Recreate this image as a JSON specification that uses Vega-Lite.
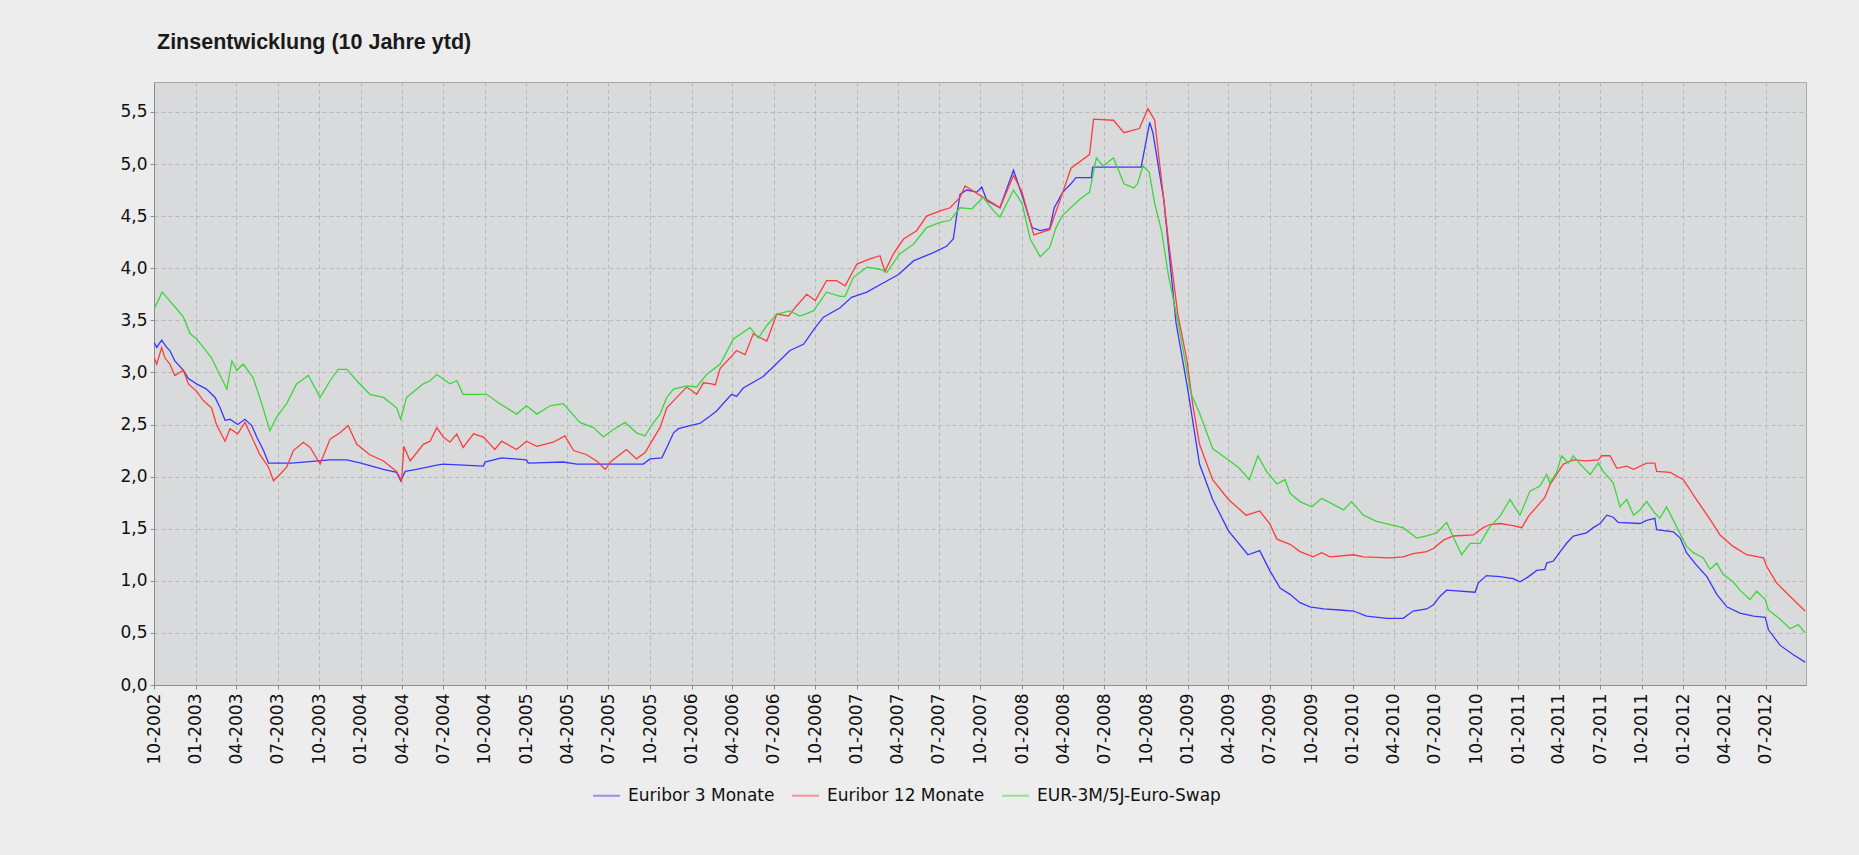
{
"$schema": "https://vega.github.io/schema/vega-lite/v6.json",
"autosize": {"type": "none"},
"width": 1652,
"height": 603,
"padding": {"left": 154, "top": 82, "right": 53, "bottom": 170},
"background": "#ECEDEC",
"title": {"text": "Zinsentwicklung (10 Jahre ytd)", "anchor": "start", "frame": "group", "font": "Liberation Sans", "fontWeight": "bold", "fontSize": 21.5, "color": "#1a1a1a", "dx": 3, "offset": 12, "baseline": "alphabetic"},
"config": {
  "view": {"fill": "#D9DADB", "stroke": "#a9a9a9", "strokeWidth": 1},
  "axis": {"labelFont": "DejaVu Sans", "labelFontSize": 17, "labelColor": "#111111", "domainColor": "#8c8c8c", "tickColor": "#8c8c8c", "tickSize": 4, "gridColor": "#b8b8b8", "gridDash": [4, 3], "gridWidth": 1, "title": null}
},
"data": {"values": [
{"s":"Euribor 3 Monate","d":"2002-10-01","v":3.29},
{"s":"Euribor 3 Monate","d":"2002-10-07","v":3.24},
{"s":"Euribor 3 Monate","d":"2002-10-18","v":3.31},
{"s":"Euribor 3 Monate","d":"2002-10-29","v":3.24},
{"s":"Euribor 3 Monate","d":"2002-11-05","v":3.21},
{"s":"Euribor 3 Monate","d":"2002-11-16","v":3.11},
{"s":"Euribor 3 Monate","d":"2002-12-05","v":3.02},
{"s":"Euribor 3 Monate","d":"2002-12-16","v":2.94},
{"s":"Euribor 3 Monate","d":"2003-01-03","v":2.89},
{"s":"Euribor 3 Monate","d":"2003-01-25","v":2.84},
{"s":"Euribor 3 Monate","d":"2003-02-13","v":2.76},
{"s":"Euribor 3 Monate","d":"2003-02-24","v":2.66},
{"s":"Euribor 3 Monate","d":"2003-03-07","v":2.54},
{"s":"Euribor 3 Monate","d":"2003-03-18","v":2.55},
{"s":"Euribor 3 Monate","d":"2003-04-04","v":2.50},
{"s":"Euribor 3 Monate","d":"2003-04-20","v":2.55},
{"s":"Euribor 3 Monate","d":"2003-05-05","v":2.49},
{"s":"Euribor 3 Monate","d":"2003-05-16","v":2.38},
{"s":"Euribor 3 Monate","d":"2003-05-31","v":2.25},
{"s":"Euribor 3 Monate","d":"2003-06-11","v":2.13},
{"s":"Euribor 3 Monate","d":"2003-08-01","v":2.13},
{"s":"Euribor 3 Monate","d":"2003-10-25","v":2.16},
{"s":"Euribor 3 Monate","d":"2003-12-01","v":2.16},
{"s":"Euribor 3 Monate","d":"2004-01-01","v":2.13},
{"s":"Euribor 3 Monate","d":"2004-02-20","v":2.07},
{"s":"Euribor 3 Monate","d":"2004-03-20","v":2.04},
{"s":"Euribor 3 Monate","d":"2004-03-29","v":1.96},
{"s":"Euribor 3 Monate","d":"2004-04-08","v":2.05},
{"s":"Euribor 3 Monate","d":"2004-05-03","v":2.07},
{"s":"Euribor 3 Monate","d":"2004-06-17","v":2.11},
{"s":"Euribor 3 Monate","d":"2004-07-01","v":2.12},
{"s":"Euribor 3 Monate","d":"2004-09-28","v":2.10},
{"s":"Euribor 3 Monate","d":"2004-10-01","v":2.14},
{"s":"Euribor 3 Monate","d":"2004-11-07","v":2.18},
{"s":"Euribor 3 Monate","d":"2005-01-01","v":2.16},
{"s":"Euribor 3 Monate","d":"2005-01-05","v":2.13},
{"s":"Euribor 3 Monate","d":"2005-03-23","v":2.14},
{"s":"Euribor 3 Monate","d":"2005-04-22","v":2.12},
{"s":"Euribor 3 Monate","d":"2005-09-16","v":2.12},
{"s":"Euribor 3 Monate","d":"2005-10-01","v":2.17},
{"s":"Euribor 3 Monate","d":"2005-10-27","v":2.18},
{"s":"Euribor 3 Monate","d":"2005-11-07","v":2.28},
{"s":"Euribor 3 Monate","d":"2005-11-22","v":2.42},
{"s":"Euribor 3 Monate","d":"2005-12-03","v":2.46},
{"s":"Euribor 3 Monate","d":"2005-12-28","v":2.49},
{"s":"Euribor 3 Monate","d":"2006-01-19","v":2.51},
{"s":"Euribor 3 Monate","d":"2006-02-10","v":2.58},
{"s":"Euribor 3 Monate","d":"2006-02-25","v":2.63},
{"s":"Euribor 3 Monate","d":"2006-03-30","v":2.79},
{"s":"Euribor 3 Monate","d":"2006-04-10","v":2.77},
{"s":"Euribor 3 Monate","d":"2006-04-25","v":2.85},
{"s":"Euribor 3 Monate","d":"2006-06-08","v":2.96},
{"s":"Euribor 3 Monate","d":"2006-06-27","v":3.04},
{"s":"Euribor 3 Monate","d":"2006-08-06","v":3.21},
{"s":"Euribor 3 Monate","d":"2006-09-05","v":3.27},
{"s":"Euribor 3 Monate","d":"2006-10-01","v":3.43},
{"s":"Euribor 3 Monate","d":"2006-10-19","v":3.53},
{"s":"Euribor 3 Monate","d":"2006-11-25","v":3.62},
{"s":"Euribor 3 Monate","d":"2006-12-20","v":3.72},
{"s":"Euribor 3 Monate","d":"2007-01-23","v":3.77},
{"s":"Euribor 3 Monate","d":"2007-03-01","v":3.86},
{"s":"Euribor 3 Monate","d":"2007-04-03","v":3.94},
{"s":"Euribor 3 Monate","d":"2007-05-06","v":4.07},
{"s":"Euribor 3 Monate","d":"2007-06-19","v":4.15},
{"s":"Euribor 3 Monate","d":"2007-07-18","v":4.21},
{"s":"Euribor 3 Monate","d":"2007-08-02","v":4.28},
{"s":"Euribor 3 Monate","d":"2007-08-09","v":4.49},
{"s":"Euribor 3 Monate","d":"2007-08-17","v":4.71},
{"s":"Euribor 3 Monate","d":"2007-09-01","v":4.75},
{"s":"Euribor 3 Monate","d":"2007-09-23","v":4.73},
{"s":"Euribor 3 Monate","d":"2007-10-04","v":4.78},
{"s":"Euribor 3 Monate","d":"2007-10-15","v":4.65},
{"s":"Euribor 3 Monate","d":"2007-11-13","v":4.58},
{"s":"Euribor 3 Monate","d":"2007-12-13","v":4.94},
{"s":"Euribor 3 Monate","d":"2008-01-01","v":4.70},
{"s":"Euribor 3 Monate","d":"2008-01-23","v":4.39},
{"s":"Euribor 3 Monate","d":"2008-02-10","v":4.36},
{"s":"Euribor 3 Monate","d":"2008-03-02","v":4.38},
{"s":"Euribor 3 Monate","d":"2008-03-12","v":4.58},
{"s":"Euribor 3 Monate","d":"2008-03-31","v":4.73},
{"s":"Euribor 3 Monate","d":"2008-04-18","v":4.81},
{"s":"Euribor 3 Monate","d":"2008-04-29","v":4.87},
{"s":"Euribor 3 Monate","d":"2008-06-02","v":4.87},
{"s":"Euribor 3 Monate","d":"2008-06-05","v":4.97},
{"s":"Euribor 3 Monate","d":"2008-09-20","v":4.97},
{"s":"Euribor 3 Monate","d":"2008-10-09","v":5.40},
{"s":"Euribor 3 Monate","d":"2008-10-16","v":5.30},
{"s":"Euribor 3 Monate","d":"2008-10-31","v":4.90},
{"s":"Euribor 3 Monate","d":"2008-11-09","v":4.66},
{"s":"Euribor 3 Monate","d":"2008-12-06","v":3.48},
{"s":"Euribor 3 Monate","d":"2009-01-01","v":2.84},
{"s":"Euribor 3 Monate","d":"2009-01-27","v":2.12},
{"s":"Euribor 3 Monate","d":"2009-02-25","v":1.78},
{"s":"Euribor 3 Monate","d":"2009-04-01","v":1.48},
{"s":"Euribor 3 Monate","d":"2009-05-14","v":1.25},
{"s":"Euribor 3 Monate","d":"2009-06-09","v":1.29},
{"s":"Euribor 3 Monate","d":"2009-07-01","v":1.10},
{"s":"Euribor 3 Monate","d":"2009-07-24","v":0.93},
{"s":"Euribor 3 Monate","d":"2009-08-15","v":0.87},
{"s":"Euribor 3 Monate","d":"2009-09-06","v":0.79},
{"s":"Euribor 3 Monate","d":"2009-09-28","v":0.75},
{"s":"Euribor 3 Monate","d":"2009-10-28","v":0.73},
{"s":"Euribor 3 Monate","d":"2009-12-03","v":0.72},
{"s":"Euribor 3 Monate","d":"2010-01-02","v":0.71},
{"s":"Euribor 3 Monate","d":"2010-01-31","v":0.66},
{"s":"Euribor 3 Monate","d":"2010-03-17","v":0.64},
{"s":"Euribor 3 Monate","d":"2010-04-22","v":0.64},
{"s":"Euribor 3 Monate","d":"2010-05-14","v":0.71},
{"s":"Euribor 3 Monate","d":"2010-06-13","v":0.73},
{"s":"Euribor 3 Monate","d":"2010-06-28","v":0.77},
{"s":"Euribor 3 Monate","d":"2010-07-12","v":0.85},
{"s":"Euribor 3 Monate","d":"2010-07-27","v":0.91},
{"s":"Euribor 3 Monate","d":"2010-09-28","v":0.89},
{"s":"Euribor 3 Monate","d":"2010-10-05","v":0.98},
{"s":"Euribor 3 Monate","d":"2010-10-23","v":1.05},
{"s":"Euribor 3 Monate","d":"2010-11-22","v":1.04},
{"s":"Euribor 3 Monate","d":"2010-12-21","v":1.02},
{"s":"Euribor 3 Monate","d":"2011-01-05","v":0.99},
{"s":"Euribor 3 Monate","d":"2011-01-24","v":1.04},
{"s":"Euribor 3 Monate","d":"2011-02-11","v":1.10},
{"s":"Euribor 3 Monate","d":"2011-03-01","v":1.11},
{"s":"Euribor 3 Monate","d":"2011-03-05","v":1.17},
{"s":"Euribor 3 Monate","d":"2011-03-20","v":1.19},
{"s":"Euribor 3 Monate","d":"2011-04-04","v":1.28},
{"s":"Euribor 3 Monate","d":"2011-04-18","v":1.36},
{"s":"Euribor 3 Monate","d":"2011-05-03","v":1.43},
{"s":"Euribor 3 Monate","d":"2011-06-01","v":1.46},
{"s":"Euribor 3 Monate","d":"2011-06-16","v":1.51},
{"s":"Euribor 3 Monate","d":"2011-07-01","v":1.55},
{"s":"Euribor 3 Monate","d":"2011-07-16","v":1.63},
{"s":"Euribor 3 Monate","d":"2011-07-30","v":1.61},
{"s":"Euribor 3 Monate","d":"2011-08-10","v":1.56},
{"s":"Euribor 3 Monate","d":"2011-09-27","v":1.55},
{"s":"Euribor 3 Monate","d":"2011-10-12","v":1.58},
{"s":"Euribor 3 Monate","d":"2011-10-30","v":1.60},
{"s":"Euribor 3 Monate","d":"2011-11-03","v":1.49},
{"s":"Euribor 3 Monate","d":"2011-12-10","v":1.47},
{"s":"Euribor 3 Monate","d":"2011-12-25","v":1.41},
{"s":"Euribor 3 Monate","d":"2012-01-08","v":1.27},
{"s":"Euribor 3 Monate","d":"2012-01-30","v":1.15},
{"s":"Euribor 3 Monate","d":"2012-02-22","v":1.04},
{"s":"Euribor 3 Monate","d":"2012-03-15","v":0.87},
{"s":"Euribor 3 Monate","d":"2012-04-06","v":0.75},
{"s":"Euribor 3 Monate","d":"2012-05-05","v":0.69},
{"s":"Euribor 3 Monate","d":"2012-06-04","v":0.66},
{"s":"Euribor 3 Monate","d":"2012-06-30","v":0.65},
{"s":"Euribor 3 Monate","d":"2012-07-07","v":0.53},
{"s":"Euribor 3 Monate","d":"2012-08-02","v":0.38},
{"s":"Euribor 3 Monate","d":"2012-08-31","v":0.29},
{"s":"Euribor 3 Monate","d":"2012-09-26","v":0.22},
{"s":"Euribor 12 Monate","d":"2002-10-01","v":3.14},
{"s":"Euribor 12 Monate","d":"2002-10-07","v":3.08},
{"s":"Euribor 12 Monate","d":"2002-10-18","v":3.24},
{"s":"Euribor 12 Monate","d":"2002-10-25","v":3.14},
{"s":"Euribor 12 Monate","d":"2002-11-05","v":3.08},
{"s":"Euribor 12 Monate","d":"2002-11-16","v":2.97},
{"s":"Euribor 12 Monate","d":"2002-12-05","v":3.02},
{"s":"Euribor 12 Monate","d":"2002-12-16","v":2.89},
{"s":"Euribor 12 Monate","d":"2003-01-03","v":2.82},
{"s":"Euribor 12 Monate","d":"2003-01-18","v":2.73},
{"s":"Euribor 12 Monate","d":"2003-02-05","v":2.66},
{"s":"Euribor 12 Monate","d":"2003-02-16","v":2.50},
{"s":"Euribor 12 Monate","d":"2003-03-07","v":2.34},
{"s":"Euribor 12 Monate","d":"2003-03-18","v":2.46},
{"s":"Euribor 12 Monate","d":"2003-04-04","v":2.41},
{"s":"Euribor 12 Monate","d":"2003-04-20","v":2.52},
{"s":"Euribor 12 Monate","d":"2003-05-05","v":2.38},
{"s":"Euribor 12 Monate","d":"2003-05-23","v":2.21},
{"s":"Euribor 12 Monate","d":"2003-06-11","v":2.09},
{"s":"Euribor 12 Monate","d":"2003-06-22","v":1.96},
{"s":"Euribor 12 Monate","d":"2003-07-06","v":2.02},
{"s":"Euribor 12 Monate","d":"2003-07-21","v":2.09},
{"s":"Euribor 12 Monate","d":"2003-08-05","v":2.25},
{"s":"Euribor 12 Monate","d":"2003-08-27","v":2.33},
{"s":"Euribor 12 Monate","d":"2003-09-11","v":2.28},
{"s":"Euribor 12 Monate","d":"2003-10-03","v":2.12},
{"s":"Euribor 12 Monate","d":"2003-10-25","v":2.36},
{"s":"Euribor 12 Monate","d":"2003-11-16","v":2.42},
{"s":"Euribor 12 Monate","d":"2003-12-04","v":2.49},
{"s":"Euribor 12 Monate","d":"2003-12-23","v":2.31},
{"s":"Euribor 12 Monate","d":"2004-01-21","v":2.21},
{"s":"Euribor 12 Monate","d":"2004-02-20","v":2.15},
{"s":"Euribor 12 Monate","d":"2004-03-20","v":2.05},
{"s":"Euribor 12 Monate","d":"2004-03-31","v":1.96},
{"s":"Euribor 12 Monate","d":"2004-04-05","v":2.29},
{"s":"Euribor 12 Monate","d":"2004-04-19","v":2.15},
{"s":"Euribor 12 Monate","d":"2004-05-18","v":2.31},
{"s":"Euribor 12 Monate","d":"2004-06-02","v":2.34},
{"s":"Euribor 12 Monate","d":"2004-06-17","v":2.47},
{"s":"Euribor 12 Monate","d":"2004-07-01","v":2.38},
{"s":"Euribor 12 Monate","d":"2004-07-16","v":2.33},
{"s":"Euribor 12 Monate","d":"2004-07-31","v":2.41},
{"s":"Euribor 12 Monate","d":"2004-08-14","v":2.28},
{"s":"Euribor 12 Monate","d":"2004-09-06","v":2.41},
{"s":"Euribor 12 Monate","d":"2004-09-28","v":2.38},
{"s":"Euribor 12 Monate","d":"2004-10-23","v":2.26},
{"s":"Euribor 12 Monate","d":"2004-11-07","v":2.34},
{"s":"Euribor 12 Monate","d":"2004-12-10","v":2.26},
{"s":"Euribor 12 Monate","d":"2005-01-01","v":2.34},
{"s":"Euribor 12 Monate","d":"2005-01-24","v":2.29},
{"s":"Euribor 12 Monate","d":"2005-03-01","v":2.33},
{"s":"Euribor 12 Monate","d":"2005-03-27","v":2.39},
{"s":"Euribor 12 Monate","d":"2005-04-15","v":2.25},
{"s":"Euribor 12 Monate","d":"2005-05-14","v":2.21},
{"s":"Euribor 12 Monate","d":"2005-06-05","v":2.15},
{"s":"Euribor 12 Monate","d":"2005-06-24","v":2.07},
{"s":"Euribor 12 Monate","d":"2005-07-08","v":2.15},
{"s":"Euribor 12 Monate","d":"2005-08-10","v":2.26},
{"s":"Euribor 12 Monate","d":"2005-09-01","v":2.17},
{"s":"Euribor 12 Monate","d":"2005-09-20","v":2.23},
{"s":"Euribor 12 Monate","d":"2005-10-05","v":2.34},
{"s":"Euribor 12 Monate","d":"2005-10-23","v":2.47},
{"s":"Euribor 12 Monate","d":"2005-11-07","v":2.66},
{"s":"Euribor 12 Monate","d":"2005-11-29","v":2.76},
{"s":"Euribor 12 Monate","d":"2005-12-21","v":2.86},
{"s":"Euribor 12 Monate","d":"2006-01-12","v":2.79},
{"s":"Euribor 12 Monate","d":"2006-01-27","v":2.90},
{"s":"Euribor 12 Monate","d":"2006-02-14","v":2.89},
{"s":"Euribor 12 Monate","d":"2006-02-22","v":2.88},
{"s":"Euribor 12 Monate","d":"2006-03-05","v":3.04},
{"s":"Euribor 12 Monate","d":"2006-03-27","v":3.14},
{"s":"Euribor 12 Monate","d":"2006-04-10","v":3.21},
{"s":"Euribor 12 Monate","d":"2006-04-29","v":3.17},
{"s":"Euribor 12 Monate","d":"2006-05-17","v":3.37},
{"s":"Euribor 12 Monate","d":"2006-06-16","v":3.30},
{"s":"Euribor 12 Monate","d":"2006-07-08","v":3.56},
{"s":"Euribor 12 Monate","d":"2006-08-03","v":3.54},
{"s":"Euribor 12 Monate","d":"2006-08-21","v":3.64},
{"s":"Euribor 12 Monate","d":"2006-09-12","v":3.75},
{"s":"Euribor 12 Monate","d":"2006-10-01","v":3.69},
{"s":"Euribor 12 Monate","d":"2006-10-26","v":3.88},
{"s":"Euribor 12 Monate","d":"2006-11-17","v":3.88},
{"s":"Euribor 12 Monate","d":"2006-12-06","v":3.83},
{"s":"Euribor 12 Monate","d":"2007-01-01","v":4.04},
{"s":"Euribor 12 Monate","d":"2007-01-30","v":4.09},
{"s":"Euribor 12 Monate","d":"2007-02-21","v":4.12},
{"s":"Euribor 12 Monate","d":"2007-03-04","v":3.97},
{"s":"Euribor 12 Monate","d":"2007-03-23","v":4.14},
{"s":"Euribor 12 Monate","d":"2007-04-14","v":4.28},
{"s":"Euribor 12 Monate","d":"2007-05-13","v":4.36},
{"s":"Euribor 12 Monate","d":"2007-06-04","v":4.50},
{"s":"Euribor 12 Monate","d":"2007-07-04","v":4.55},
{"s":"Euribor 12 Monate","d":"2007-07-26","v":4.58},
{"s":"Euribor 12 Monate","d":"2007-08-17","v":4.68},
{"s":"Euribor 12 Monate","d":"2007-08-28","v":4.79},
{"s":"Euribor 12 Monate","d":"2007-09-08","v":4.76},
{"s":"Euribor 12 Monate","d":"2007-10-07","v":4.68},
{"s":"Euribor 12 Monate","d":"2007-10-30","v":4.62},
{"s":"Euribor 12 Monate","d":"2007-11-13","v":4.58},
{"s":"Euribor 12 Monate","d":"2007-12-13","v":4.89},
{"s":"Euribor 12 Monate","d":"2008-01-01","v":4.73},
{"s":"Euribor 12 Monate","d":"2008-01-27","v":4.32},
{"s":"Euribor 12 Monate","d":"2008-03-02","v":4.37},
{"s":"Euribor 12 Monate","d":"2008-03-31","v":4.73},
{"s":"Euribor 12 Monate","d":"2008-04-18","v":4.96},
{"s":"Euribor 12 Monate","d":"2008-05-29","v":5.09},
{"s":"Euribor 12 Monate","d":"2008-06-07","v":5.43},
{"s":"Euribor 12 Monate","d":"2008-07-21","v":5.42},
{"s":"Euribor 12 Monate","d":"2008-08-13","v":5.30},
{"s":"Euribor 12 Monate","d":"2008-09-16","v":5.34},
{"s":"Euribor 12 Monate","d":"2008-10-05","v":5.53},
{"s":"Euribor 12 Monate","d":"2008-10-20","v":5.42},
{"s":"Euribor 12 Monate","d":"2008-10-31","v":5.00},
{"s":"Euribor 12 Monate","d":"2008-11-19","v":4.28},
{"s":"Euribor 12 Monate","d":"2008-12-10","v":3.56},
{"s":"Euribor 12 Monate","d":"2008-12-31","v":3.10},
{"s":"Euribor 12 Monate","d":"2009-01-12","v":2.69},
{"s":"Euribor 12 Monate","d":"2009-01-27","v":2.31},
{"s":"Euribor 12 Monate","d":"2009-02-25","v":1.97},
{"s":"Euribor 12 Monate","d":"2009-04-01","v":1.78},
{"s":"Euribor 12 Monate","d":"2009-05-10","v":1.63},
{"s":"Euribor 12 Monate","d":"2009-06-09","v":1.67},
{"s":"Euribor 12 Monate","d":"2009-07-01","v":1.55},
{"s":"Euribor 12 Monate","d":"2009-07-17","v":1.40},
{"s":"Euribor 12 Monate","d":"2009-08-15","v":1.35},
{"s":"Euribor 12 Monate","d":"2009-09-06","v":1.28},
{"s":"Euribor 12 Monate","d":"2009-10-05","v":1.23},
{"s":"Euribor 12 Monate","d":"2009-10-24","v":1.27},
{"s":"Euribor 12 Monate","d":"2009-11-11","v":1.23},
{"s":"Euribor 12 Monate","d":"2010-01-02","v":1.25},
{"s":"Euribor 12 Monate","d":"2010-01-24","v":1.23},
{"s":"Euribor 12 Monate","d":"2010-03-24","v":1.22},
{"s":"Euribor 12 Monate","d":"2010-04-22","v":1.23},
{"s":"Euribor 12 Monate","d":"2010-05-14","v":1.26},
{"s":"Euribor 12 Monate","d":"2010-06-13","v":1.28},
{"s":"Euribor 12 Monate","d":"2010-06-28","v":1.31},
{"s":"Euribor 12 Monate","d":"2010-07-20","v":1.39},
{"s":"Euribor 12 Monate","d":"2010-08-11","v":1.43},
{"s":"Euribor 12 Monate","d":"2010-09-24","v":1.44},
{"s":"Euribor 12 Monate","d":"2010-10-16","v":1.51},
{"s":"Euribor 12 Monate","d":"2010-10-31","v":1.54},
{"s":"Euribor 12 Monate","d":"2010-11-22","v":1.55},
{"s":"Euribor 12 Monate","d":"2010-12-21","v":1.53},
{"s":"Euribor 12 Monate","d":"2011-01-09","v":1.51},
{"s":"Euribor 12 Monate","d":"2011-01-24","v":1.62},
{"s":"Euribor 12 Monate","d":"2011-02-11","v":1.71},
{"s":"Euribor 12 Monate","d":"2011-03-01","v":1.80},
{"s":"Euribor 12 Monate","d":"2011-03-12","v":1.92},
{"s":"Euribor 12 Monate","d":"2011-03-27","v":2.02},
{"s":"Euribor 12 Monate","d":"2011-04-11","v":2.12},
{"s":"Euribor 12 Monate","d":"2011-05-03","v":2.16},
{"s":"Euribor 12 Monate","d":"2011-06-01","v":2.15},
{"s":"Euribor 12 Monate","d":"2011-06-27","v":2.16},
{"s":"Euribor 12 Monate","d":"2011-07-05","v":2.20},
{"s":"Euribor 12 Monate","d":"2011-07-23","v":2.20},
{"s":"Euribor 12 Monate","d":"2011-08-07","v":2.08},
{"s":"Euribor 12 Monate","d":"2011-08-29","v":2.10},
{"s":"Euribor 12 Monate","d":"2011-09-13","v":2.07},
{"s":"Euribor 12 Monate","d":"2011-10-12","v":2.13},
{"s":"Euribor 12 Monate","d":"2011-10-30","v":2.13},
{"s":"Euribor 12 Monate","d":"2011-11-03","v":2.05},
{"s":"Euribor 12 Monate","d":"2011-12-03","v":2.04},
{"s":"Euribor 12 Monate","d":"2012-01-01","v":1.97},
{"s":"Euribor 12 Monate","d":"2012-01-30","v":1.78},
{"s":"Euribor 12 Monate","d":"2012-02-29","v":1.59},
{"s":"Euribor 12 Monate","d":"2012-03-22","v":1.44},
{"s":"Euribor 12 Monate","d":"2012-04-20","v":1.33},
{"s":"Euribor 12 Monate","d":"2012-05-20","v":1.25},
{"s":"Euribor 12 Monate","d":"2012-06-26","v":1.22},
{"s":"Euribor 12 Monate","d":"2012-07-03","v":1.14},
{"s":"Euribor 12 Monate","d":"2012-07-25","v":0.98},
{"s":"Euribor 12 Monate","d":"2012-08-24","v":0.85},
{"s":"Euribor 12 Monate","d":"2012-09-26","v":0.71},
{"s":"EUR-3M/5J-Euro-Swap","d":"2002-10-01","v":3.61},
{"s":"EUR-3M/5J-Euro-Swap","d":"2002-10-07","v":3.66},
{"s":"EUR-3M/5J-Euro-Swap","d":"2002-10-19","v":3.77},
{"s":"EUR-3M/5J-Euro-Swap","d":"2002-10-29","v":3.72},
{"s":"EUR-3M/5J-Euro-Swap","d":"2002-11-14","v":3.64},
{"s":"EUR-3M/5J-Euro-Swap","d":"2002-12-05","v":3.53},
{"s":"EUR-3M/5J-Euro-Swap","d":"2002-12-20","v":3.37},
{"s":"EUR-3M/5J-Euro-Swap","d":"2003-01-03","v":3.32},
{"s":"EUR-3M/5J-Euro-Swap","d":"2003-01-18","v":3.24},
{"s":"EUR-3M/5J-Euro-Swap","d":"2003-02-05","v":3.14},
{"s":"EUR-3M/5J-Euro-Swap","d":"2003-02-24","v":2.97},
{"s":"EUR-3M/5J-Euro-Swap","d":"2003-03-11","v":2.84},
{"s":"EUR-3M/5J-Euro-Swap","d":"2003-03-22","v":3.11},
{"s":"EUR-3M/5J-Euro-Swap","d":"2003-04-02","v":3.02},
{"s":"EUR-3M/5J-Euro-Swap","d":"2003-04-16","v":3.08},
{"s":"EUR-3M/5J-Euro-Swap","d":"2003-05-08","v":2.95},
{"s":"EUR-3M/5J-Euro-Swap","d":"2003-05-27","v":2.70},
{"s":"EUR-3M/5J-Euro-Swap","d":"2003-06-14","v":2.44},
{"s":"EUR-3M/5J-Euro-Swap","d":"2003-06-29","v":2.57},
{"s":"EUR-3M/5J-Euro-Swap","d":"2003-07-21","v":2.70},
{"s":"EUR-3M/5J-Euro-Swap","d":"2003-08-12","v":2.89},
{"s":"EUR-3M/5J-Euro-Swap","d":"2003-09-07","v":2.97},
{"s":"EUR-3M/5J-Euro-Swap","d":"2003-10-03","v":2.76},
{"s":"EUR-3M/5J-Euro-Swap","d":"2003-10-25","v":2.92},
{"s":"EUR-3M/5J-Euro-Swap","d":"2003-11-12","v":3.03},
{"s":"EUR-3M/5J-Euro-Swap","d":"2003-12-01","v":3.03},
{"s":"EUR-3M/5J-Euro-Swap","d":"2003-12-23","v":2.92},
{"s":"EUR-3M/5J-Euro-Swap","d":"2004-01-21","v":2.79},
{"s":"EUR-3M/5J-Euro-Swap","d":"2004-02-20","v":2.76},
{"s":"EUR-3M/5J-Euro-Swap","d":"2004-03-20","v":2.66},
{"s":"EUR-3M/5J-Euro-Swap","d":"2004-03-29","v":2.55},
{"s":"EUR-3M/5J-Euro-Swap","d":"2004-04-11","v":2.76},
{"s":"EUR-3M/5J-Euro-Swap","d":"2004-05-18","v":2.89},
{"s":"EUR-3M/5J-Euro-Swap","d":"2004-06-02","v":2.92},
{"s":"EUR-3M/5J-Euro-Swap","d":"2004-06-17","v":2.98},
{"s":"EUR-3M/5J-Euro-Swap","d":"2004-07-16","v":2.89},
{"s":"EUR-3M/5J-Euro-Swap","d":"2004-07-31","v":2.92},
{"s":"EUR-3M/5J-Euro-Swap","d":"2004-08-14","v":2.79},
{"s":"EUR-3M/5J-Euro-Swap","d":"2004-10-05","v":2.79},
{"s":"EUR-3M/5J-Euro-Swap","d":"2004-11-03","v":2.70},
{"s":"EUR-3M/5J-Euro-Swap","d":"2004-12-10","v":2.60},
{"s":"EUR-3M/5J-Euro-Swap","d":"2005-01-01","v":2.68},
{"s":"EUR-3M/5J-Euro-Swap","d":"2005-01-24","v":2.60},
{"s":"EUR-3M/5J-Euro-Swap","d":"2005-02-22","v":2.68},
{"s":"EUR-3M/5J-Euro-Swap","d":"2005-03-23","v":2.70},
{"s":"EUR-3M/5J-Euro-Swap","d":"2005-04-29","v":2.52},
{"s":"EUR-3M/5J-Euro-Swap","d":"2005-05-29","v":2.47},
{"s":"EUR-3M/5J-Euro-Swap","d":"2005-06-20","v":2.38},
{"s":"EUR-3M/5J-Euro-Swap","d":"2005-07-08","v":2.44},
{"s":"EUR-3M/5J-Euro-Swap","d":"2005-08-07","v":2.52},
{"s":"EUR-3M/5J-Euro-Swap","d":"2005-09-01","v":2.42},
{"s":"EUR-3M/5J-Euro-Swap","d":"2005-09-20","v":2.39},
{"s":"EUR-3M/5J-Euro-Swap","d":"2005-10-05","v":2.50},
{"s":"EUR-3M/5J-Euro-Swap","d":"2005-10-23","v":2.60},
{"s":"EUR-3M/5J-Euro-Swap","d":"2005-11-07","v":2.76},
{"s":"EUR-3M/5J-Euro-Swap","d":"2005-11-22","v":2.84},
{"s":"EUR-3M/5J-Euro-Swap","d":"2005-12-21","v":2.87},
{"s":"EUR-3M/5J-Euro-Swap","d":"2006-01-12","v":2.86},
{"s":"EUR-3M/5J-Euro-Swap","d":"2006-02-03","v":2.98},
{"s":"EUR-3M/5J-Euro-Swap","d":"2006-03-05","v":3.08},
{"s":"EUR-3M/5J-Euro-Swap","d":"2006-04-03","v":3.32},
{"s":"EUR-3M/5J-Euro-Swap","d":"2006-05-10","v":3.43},
{"s":"EUR-3M/5J-Euro-Swap","d":"2006-05-28","v":3.33},
{"s":"EUR-3M/5J-Euro-Swap","d":"2006-06-16","v":3.45},
{"s":"EUR-3M/5J-Euro-Swap","d":"2006-07-08","v":3.56},
{"s":"EUR-3M/5J-Euro-Swap","d":"2006-08-06","v":3.59},
{"s":"EUR-3M/5J-Euro-Swap","d":"2006-08-28","v":3.54},
{"s":"EUR-3M/5J-Euro-Swap","d":"2006-09-27","v":3.59},
{"s":"EUR-3M/5J-Euro-Swap","d":"2006-10-26","v":3.77},
{"s":"EUR-3M/5J-Euro-Swap","d":"2006-11-25","v":3.73},
{"s":"EUR-3M/5J-Euro-Swap","d":"2006-12-06","v":3.73},
{"s":"EUR-3M/5J-Euro-Swap","d":"2006-12-24","v":3.91},
{"s":"EUR-3M/5J-Euro-Swap","d":"2007-01-23","v":4.01},
{"s":"EUR-3M/5J-Euro-Swap","d":"2007-02-21","v":3.99},
{"s":"EUR-3M/5J-Euro-Swap","d":"2007-03-08","v":3.96},
{"s":"EUR-3M/5J-Euro-Swap","d":"2007-04-06","v":4.14},
{"s":"EUR-3M/5J-Euro-Swap","d":"2007-05-06","v":4.23},
{"s":"EUR-3M/5J-Euro-Swap","d":"2007-06-04","v":4.39},
{"s":"EUR-3M/5J-Euro-Swap","d":"2007-07-04","v":4.44},
{"s":"EUR-3M/5J-Euro-Swap","d":"2007-07-26","v":4.46},
{"s":"EUR-3M/5J-Euro-Swap","d":"2007-08-17","v":4.58},
{"s":"EUR-3M/5J-Euro-Swap","d":"2007-09-12","v":4.57},
{"s":"EUR-3M/5J-Euro-Swap","d":"2007-10-07","v":4.68},
{"s":"EUR-3M/5J-Euro-Swap","d":"2007-10-30","v":4.55},
{"s":"EUR-3M/5J-Euro-Swap","d":"2007-11-13","v":4.49},
{"s":"EUR-3M/5J-Euro-Swap","d":"2007-12-13","v":4.75},
{"s":"EUR-3M/5J-Euro-Swap","d":"2008-01-01","v":4.62},
{"s":"EUR-3M/5J-Euro-Swap","d":"2008-01-19","v":4.28},
{"s":"EUR-3M/5J-Euro-Swap","d":"2008-02-10","v":4.11},
{"s":"EUR-3M/5J-Euro-Swap","d":"2008-03-02","v":4.20},
{"s":"EUR-3M/5J-Euro-Swap","d":"2008-03-16","v":4.39},
{"s":"EUR-3M/5J-Euro-Swap","d":"2008-03-31","v":4.51},
{"s":"EUR-3M/5J-Euro-Swap","d":"2008-05-07","v":4.66},
{"s":"EUR-3M/5J-Euro-Swap","d":"2008-05-29","v":4.73},
{"s":"EUR-3M/5J-Euro-Swap","d":"2008-06-13","v":5.06},
{"s":"EUR-3M/5J-Euro-Swap","d":"2008-06-28","v":4.98},
{"s":"EUR-3M/5J-Euro-Swap","d":"2008-07-21","v":5.06},
{"s":"EUR-3M/5J-Euro-Swap","d":"2008-08-13","v":4.81},
{"s":"EUR-3M/5J-Euro-Swap","d":"2008-09-04","v":4.77},
{"s":"EUR-3M/5J-Euro-Swap","d":"2008-09-12","v":4.81},
{"s":"EUR-3M/5J-Euro-Swap","d":"2008-09-24","v":4.98},
{"s":"EUR-3M/5J-Euro-Swap","d":"2008-10-08","v":4.92},
{"s":"EUR-3M/5J-Euro-Swap","d":"2008-10-20","v":4.62},
{"s":"EUR-3M/5J-Euro-Swap","d":"2008-11-04","v":4.36},
{"s":"EUR-3M/5J-Euro-Swap","d":"2008-11-19","v":3.94},
{"s":"EUR-3M/5J-Euro-Swap","d":"2008-12-03","v":3.64},
{"s":"EUR-3M/5J-Euro-Swap","d":"2008-12-17","v":3.33},
{"s":"EUR-3M/5J-Euro-Swap","d":"2009-01-08","v":2.80},
{"s":"EUR-3M/5J-Euro-Swap","d":"2009-01-27","v":2.61},
{"s":"EUR-3M/5J-Euro-Swap","d":"2009-02-25","v":2.27},
{"s":"EUR-3M/5J-Euro-Swap","d":"2009-04-01","v":2.16},
{"s":"EUR-3M/5J-Euro-Swap","d":"2009-04-25","v":2.08},
{"s":"EUR-3M/5J-Euro-Swap","d":"2009-05-17","v":1.97},
{"s":"EUR-3M/5J-Euro-Swap","d":"2009-06-05","v":2.20},
{"s":"EUR-3M/5J-Euro-Swap","d":"2009-06-24","v":2.05},
{"s":"EUR-3M/5J-Euro-Swap","d":"2009-07-17","v":1.93},
{"s":"EUR-3M/5J-Euro-Swap","d":"2009-08-04","v":1.97},
{"s":"EUR-3M/5J-Euro-Swap","d":"2009-08-15","v":1.84},
{"s":"EUR-3M/5J-Euro-Swap","d":"2009-09-06","v":1.76},
{"s":"EUR-3M/5J-Euro-Swap","d":"2009-10-02","v":1.71},
{"s":"EUR-3M/5J-Euro-Swap","d":"2009-10-24","v":1.79},
{"s":"EUR-3M/5J-Euro-Swap","d":"2009-11-11","v":1.75},
{"s":"EUR-3M/5J-Euro-Swap","d":"2009-12-11","v":1.68},
{"s":"EUR-3M/5J-Euro-Swap","d":"2009-12-29","v":1.76},
{"s":"EUR-3M/5J-Euro-Swap","d":"2010-01-24","v":1.63},
{"s":"EUR-3M/5J-Euro-Swap","d":"2010-02-22","v":1.57},
{"s":"EUR-3M/5J-Euro-Swap","d":"2010-03-24","v":1.54},
{"s":"EUR-3M/5J-Euro-Swap","d":"2010-04-22","v":1.51},
{"s":"EUR-3M/5J-Euro-Swap","d":"2010-05-22","v":1.41},
{"s":"EUR-3M/5J-Euro-Swap","d":"2010-06-13","v":1.43},
{"s":"EUR-3M/5J-Euro-Swap","d":"2010-07-05","v":1.46},
{"s":"EUR-3M/5J-Euro-Swap","d":"2010-07-27","v":1.56},
{"s":"EUR-3M/5J-Euro-Swap","d":"2010-08-14","v":1.39},
{"s":"EUR-3M/5J-Euro-Swap","d":"2010-08-29","v":1.25},
{"s":"EUR-3M/5J-Euro-Swap","d":"2010-09-17","v":1.36},
{"s":"EUR-3M/5J-Euro-Swap","d":"2010-10-09","v":1.36},
{"s":"EUR-3M/5J-Euro-Swap","d":"2010-10-31","v":1.52},
{"s":"EUR-3M/5J-Euro-Swap","d":"2010-11-22","v":1.62},
{"s":"EUR-3M/5J-Euro-Swap","d":"2010-12-14","v":1.78},
{"s":"EUR-3M/5J-Euro-Swap","d":"2011-01-05","v":1.63},
{"s":"EUR-3M/5J-Euro-Swap","d":"2011-01-27","v":1.86},
{"s":"EUR-3M/5J-Euro-Swap","d":"2011-02-18","v":1.91},
{"s":"EUR-3M/5J-Euro-Swap","d":"2011-03-05","v":2.02},
{"s":"EUR-3M/5J-Euro-Swap","d":"2011-03-12","v":1.94},
{"s":"EUR-3M/5J-Euro-Swap","d":"2011-03-27","v":2.04},
{"s":"EUR-3M/5J-Euro-Swap","d":"2011-04-07","v":2.20},
{"s":"EUR-3M/5J-Euro-Swap","d":"2011-04-22","v":2.13},
{"s":"EUR-3M/5J-Euro-Swap","d":"2011-05-03","v":2.20},
{"s":"EUR-3M/5J-Euro-Swap","d":"2011-05-18","v":2.12},
{"s":"EUR-3M/5J-Euro-Swap","d":"2011-06-09","v":2.02},
{"s":"EUR-3M/5J-Euro-Swap","d":"2011-06-27","v":2.13},
{"s":"EUR-3M/5J-Euro-Swap","d":"2011-07-08","v":2.05},
{"s":"EUR-3M/5J-Euro-Swap","d":"2011-07-30","v":1.94},
{"s":"EUR-3M/5J-Euro-Swap","d":"2011-08-14","v":1.71},
{"s":"EUR-3M/5J-Euro-Swap","d":"2011-08-29","v":1.78},
{"s":"EUR-3M/5J-Euro-Swap","d":"2011-09-13","v":1.63},
{"s":"EUR-3M/5J-Euro-Swap","d":"2011-09-27","v":1.68},
{"s":"EUR-3M/5J-Euro-Swap","d":"2011-10-12","v":1.76},
{"s":"EUR-3M/5J-Euro-Swap","d":"2011-10-30","v":1.65},
{"s":"EUR-3M/5J-Euro-Swap","d":"2011-11-10","v":1.60},
{"s":"EUR-3M/5J-Euro-Swap","d":"2011-11-25","v":1.71},
{"s":"EUR-3M/5J-Euro-Swap","d":"2011-12-17","v":1.52},
{"s":"EUR-3M/5J-Euro-Swap","d":"2012-01-08","v":1.33},
{"s":"EUR-3M/5J-Euro-Swap","d":"2012-01-23","v":1.27},
{"s":"EUR-3M/5J-Euro-Swap","d":"2012-02-14","v":1.22},
{"s":"EUR-3M/5J-Euro-Swap","d":"2012-02-29","v":1.11},
{"s":"EUR-3M/5J-Euro-Swap","d":"2012-03-15","v":1.17},
{"s":"EUR-3M/5J-Euro-Swap","d":"2012-03-29","v":1.06},
{"s":"EUR-3M/5J-Euro-Swap","d":"2012-04-20","v":0.99},
{"s":"EUR-3M/5J-Euro-Swap","d":"2012-05-05","v":0.91},
{"s":"EUR-3M/5J-Euro-Swap","d":"2012-05-27","v":0.82},
{"s":"EUR-3M/5J-Euro-Swap","d":"2012-06-11","v":0.90},
{"s":"EUR-3M/5J-Euro-Swap","d":"2012-06-30","v":0.82},
{"s":"EUR-3M/5J-Euro-Swap","d":"2012-07-07","v":0.72},
{"s":"EUR-3M/5J-Euro-Swap","d":"2012-08-02","v":0.63},
{"s":"EUR-3M/5J-Euro-Swap","d":"2012-08-24","v":0.54},
{"s":"EUR-3M/5J-Euro-Swap","d":"2012-09-11","v":0.58},
{"s":"EUR-3M/5J-Euro-Swap","d":"2012-09-26","v":0.50}
]},
"mark": {"type": "line", "strokeWidth": 1.3, "clip": true},
"encoding": {
  "x": {"field": "d", "type": "temporal",
    "scale": {"type": "utc", "domain": [{"year": 2002, "month": 10, "date": 1, "utc": true}, {"year": 2012, "month": 9, "date": 28, "utc": true}]},
    "axis": {"format": "%m-%Y", "tickCount": {"interval": "month", "step": 3}, "labelAngle": 270, "labelPadding": 4, "grid": true, "labelOverlap": false, "labelFlush": false}},
  "y": {"field": "v", "type": "quantitative",
    "scale": {"domain": [0, 5.787], "nice": false, "zero": true},
    "axis": {"values": [0, 0.5, 1, 1.5, 2, 2.5, 3, 3.5, 4, 4.5, 5, 5.5], "labelExpr": "replace(format(datum.value, '.1f'), '.', ',')", "labelPadding": 3, "grid": true}},
  "color": {"field": "s", "type": "nominal",
    "scale": {"domain": ["Euribor 3 Monate", "Euribor 12 Monate", "EUR-3M/5J-Euro-Swap"], "range": ["#3838ff", "#ff3c3c", "#3dd63d"]},
    "legend": {"title": null, "orient": "none", "legendX": 438, "legendY": 699, "direction": "horizontal", "symbolType": "stroke", "symbolSize": 729, "symbolStrokeWidth": 2, "symbolOpacity": 0.5, "labelFont": "DejaVu Sans", "labelFontSize": 17, "labelColor": "#111111", "labelOffset": 7, "labelLimit": 0, "columnPadding": 13}}
}
}
